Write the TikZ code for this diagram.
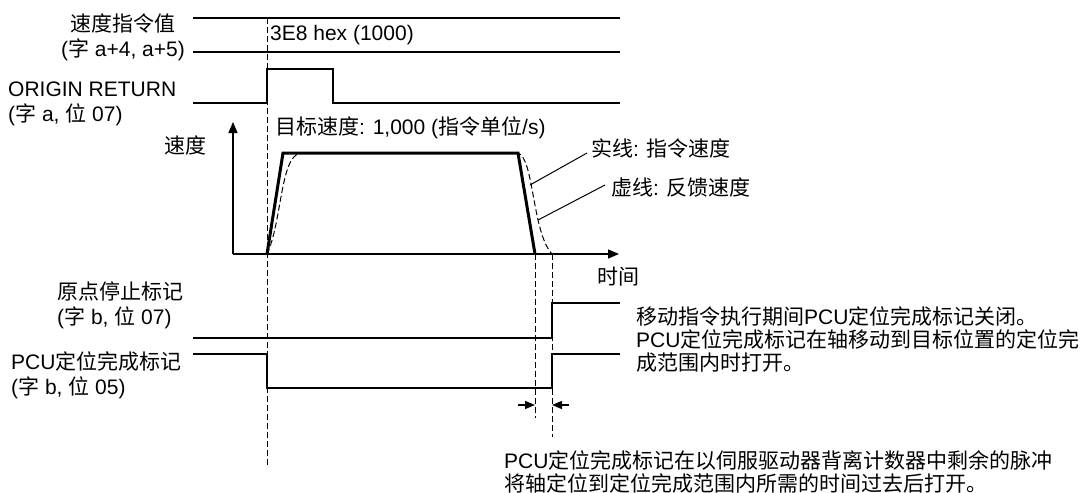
\documentclass[tikz,border=0pt]{standalone}
\usepackage{fontspec}
\setmainfont{Liberation Sans}
\newfontfamily\cjk{Noto Sans CJK SC}
\usetikzlibrary{arrows.meta,positioning}

\begin{document}
\begin{tikzpicture}[x=1pt, y=-1pt,
  lbl/.style={font=\fontsize{21}{25}\selectfont, inner sep=0pt, align=left},
  txt/.style={font=\fontsize{21}{23}\selectfont, inner sep=0pt, align=left},
  sig/.style={line width=1.3pt},
  guide/.style={line width=1pt, dash pattern=on 6pt off 3pt},
  cmd/.style={line width=3pt, line join=miter},
  fbk/.style={line width=1pt, dash pattern=on 6pt off 3pt},
  axis/.style={-{Triangle[length=11pt,width=9pt]}, line width=1.3pt},
  gap/.style={-{Triangle[length=10pt,width=8pt]}, line width=1.3pt},
  lead/.style={line width=1pt}
]
  \useasboundingbox (0,0) rectangle (1088,493);

  % signal names
  \node[lbl, align=center, anchor=east] (spdval)  at (185,37)  {{\cjk 速度指令值}\\({\cjk 字} a+4, a+5)};
  \node[lbl, anchor=west]               (orgret)  at (8,104)   {ORIGIN RETURN\\({\cjk 字} a, {\cjk 位} 07)};
  \node[lbl, anchor=west]               (orgstop) at (57,305)  {{\cjk 原点停止标记}\\({\cjk 字} b, {\cjk 位} 07)};
  \node[lbl, anchor=west]               (pcuflag) at (11,375)  {PCU{\cjk 定位完成标记}\\({\cjk 字} b, {\cjk 位} 05)};

  % timing marks
  \coordinate (o)      at (233,254);
  \coordinate (start)  at (267,254);
  \coordinate (cmdend) at (535,254);
  \coordinate (fbkend) at (552,254);

  % speed command value
  \draw[sig] (193,18) -- (620,18);
  \draw[sig] (193,52) -- (620,52);
  \node[lbl, anchor=west] (hexval) at (270,35) {3E8 hex (1000)};

  % origin return
  \draw[sig] (193,103) -- (267,103) -- (267,69) -- (333,69) -- (333,103) -- (620,103);

  % speed graph
  \draw[axis] (o) -- (233,122);
  \draw[axis] (o) -- (619,254);
  \node[lbl] (vlabel) at (185,145) {\cjk 速度};
  \node[lbl] (tlabel) at (618,277) {\cjk 时间};
  \node[lbl, anchor=west] (target) at (275,128) {{\cjk 目标速度}: 1,000 ({\cjk 指令单位}/s)};

  \draw[fbk] (start) .. controls (282,222) and (280,158) .. (300,153) -- (518,153)
    .. controls (534,158) and (532,232) .. (fbkend);
  \draw[cmd] (start) -- (283,153) -- (518,153) -- (cmdend);

  \node[lbl, anchor=west] (solid)  at (591,148) {{\cjk 实线}: {\cjk 指令速度}};
  \node[lbl, anchor=west] (dashed) at (611,187) {{\cjk 虚线}: {\cjk 反馈速度}};
  \coordinate (cmdpt) at (530,185);
  \coordinate (fbkpt) at (538,220);
  \draw[lead] (cmdpt) -- ([xshift=-4pt,yshift=-5pt]solid.west);
  \draw[lead] (fbkpt) -- ([xshift=-6pt,yshift=2pt]dashed.west);

  % guide lines
  \draw[guide] (267,18) -- (267,465);
  \draw[guide] (cmdend) -- (535,418);
  \draw[guide] (fbkend) -- (552,437);

  % origin stop flag
  \draw[sig] (193,338) -- (552,338) -- (552,303) -- (620,303);

  % PCU positioning completed flag
  \draw[sig] (193,354) -- (267,354) -- (267,388) -- (552,388) -- (552,354) -- (620,354);

  % delay
  \coordinate (gapl) at (518,405);
  \coordinate (gapr) at (569,405);
  \draw[gap] (gapl) -- (535,405);
  \draw[gap] (gapr) -- (552,405);

  % notes
  \node[txt, anchor=west] (note1) at (636,339)
    {{\cjk 移动指令执行期间}PCU{\cjk 定位完成标记关闭。}\\
     PCU{\cjk 定位完成标记在轴移动到目标位置的定位完}\\
     {\cjk 成范围内时打开。}};
  \node[txt, anchor=west] (note2) at (504,472)
    {PCU{\cjk 定位完成标记在以伺服驱动器背离计数器中剩余的脉冲}\\
     {\cjk 将轴定位到定位完成范围内所需的时间过去后打开。}};
\end{tikzpicture}
\end{document}
